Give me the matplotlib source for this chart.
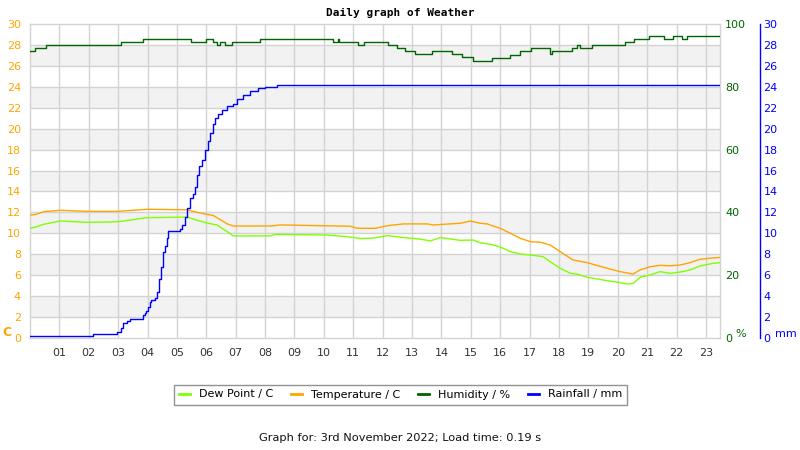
import matplotlib
matplotlib.use("Agg")
import matplotlib.pyplot as plt
from matplotlib.lines import Line2D

# ---------------- data ----------------
hour_ticks = list(range(1, 24))
hour_labels = ["%02d" % h for h in hour_ticks]

temp_t = [0, 0.2, 0.46, 1.03, 1.95, 2.97, 4.0, 5.35, 5.69, 6.24, 6.71, 6.92, 8.18, 8.52,
          10.90, 11.14, 11.75, 12.16, 12.70, 13.52, 13.72, 14.64, 14.99, 15.32, 15.56,
          15.76, 16.0, 16.35, 16.69, 17.03, 17.36, 17.70, 18.04, 18.48, 18.96, 19.64,
          20.08, 20.52, 20.76, 21.10, 21.44, 21.78, 22.12, 22.46, 22.80, 23.24, 23.48]
temp_v = [11.75, 11.8, 12.07, 12.2, 12.1, 12.1, 12.3, 12.25, 12.0, 11.7, 10.9, 10.7, 10.7, 10.8,
          10.68, 10.48, 10.48, 10.73, 10.9, 10.9, 10.8, 10.96, 11.18, 10.96, 10.9,
          10.7, 10.48, 10.0, 9.52, 9.2, 9.15, 8.89, 8.25, 7.45, 7.2, 6.66,
          6.34, 6.11, 6.5, 6.81, 6.94, 6.9, 6.97, 7.2, 7.52, 7.65, 7.7]

dew_t = [0, 0.2, 0.46, 1.03, 1.95, 2.97, 4.0, 5.35, 5.56, 6.0, 6.36, 6.71, 6.92, 8.18, 8.35,
         10.12, 10.90, 11.24, 11.68, 12.16, 12.70, 13.28, 13.62, 13.96, 14.64, 15.08, 15.32,
         15.56, 15.76, 16.0, 16.35, 16.69, 17.03, 17.46, 17.70, 18.04, 18.39, 18.62, 18.96,
         19.64, 20.08, 20.32, 20.52, 20.76, 21.10, 21.44, 21.78, 22.12, 22.46, 22.80, 23.24, 23.48]
dew_v = [10.48, 10.6, 10.86, 11.18, 11.05, 11.1, 11.5, 11.55, 11.36, 11.0, 10.8, 10.16, 9.75, 9.76, 9.9,
         9.84, 9.65, 9.5, 9.55, 9.78, 9.6, 9.45, 9.27, 9.6, 9.33, 9.36, 9.1,
         9.0, 8.89, 8.7, 8.25, 8.02, 7.93, 7.77, 7.29, 6.66, 6.18, 6.1, 5.8,
         5.48, 5.29, 5.16, 5.2, 5.8, 6.02, 6.34, 6.18, 6.3, 6.5, 6.88, 7.13, 7.2]

hum_t = [0, 0.18, 0.55, 3.10, 3.86, 5.49, 6.0, 6.24, 6.36, 6.48, 6.65, 6.88, 7.83,
         10.31, 10.49, 10.52, 11.15, 11.37, 12.18, 12.49, 12.77, 13.11, 13.68, 14.36,
         14.70, 15.09, 15.72, 16.35, 16.66, 17.04, 17.68, 17.76, 18.44, 18.61, 18.72,
         19.12, 20.25, 20.56, 21.08, 21.56, 21.89, 22.18, 22.35, 23.48]
hum_v = [91.4, 92.3, 93.2, 94.3, 95.1, 94.3, 95.1, 94.3, 93.2, 94.3, 93.2, 94.3, 95.1,
         94.3, 95.1, 94.3, 93.2, 94.3, 93.2, 92.3, 91.4, 90.4, 91.4, 90.4,
         89.5, 88.2, 89.1, 90.2, 91.4, 92.3, 90.4, 91.4, 92.3, 93.2, 92.3,
         93.2, 94.3, 95.1, 96.1, 95.1, 96.1, 95.1, 96.1, 96.1]

rain_t = [0, 2.13, 2.96, 3.08, 3.15, 3.31, 3.41, 3.86, 3.90, 3.96, 4.02, 4.07, 4.12, 4.27,
          4.33, 4.38, 4.45, 4.52, 4.58, 4.66, 4.71, 5.10, 5.18, 5.27, 5.35, 5.46, 5.56,
          5.63, 5.69, 5.75, 5.85, 5.97, 6.06, 6.14, 6.22, 6.31, 6.40, 6.55, 6.70, 6.90,
          7.05, 7.25, 7.50, 7.75, 8.0, 8.4, 23.48]
rain_v = [0.2, 0.4, 0.6, 1.0, 1.4, 1.6, 1.8, 2.2, 2.4, 2.6, 3.0, 3.4, 3.6, 3.8,
          4.4, 5.6, 6.8, 8.2, 8.8, 9.6, 10.2, 10.4, 10.8, 11.6, 12.4, 13.4, 13.8,
          14.4, 15.6, 16.4, 17.0, 18.0, 18.8, 19.6, 20.4, 21.0, 21.4, 21.8, 22.2, 22.4,
          22.8, 23.2, 23.6, 23.9, 24.0, 24.2, 24.2]

x_max = 23.48

# ---------------- styles ----------------
C_TEMP = "#FFA500"
C_DEW = "#80FF00"
C_HUM = "#006400"
C_RAIN = "#0000FF"
C_GRID = "#d3d3d3"
C_BAND = "#f2f2f2"
FS = 8

fig = plt.figure(figsize=(8, 4.5), dpi=100)
ax = fig.add_axes([30 / 800, 1 - 338 / 450, 690 / 800, 314 / 450])

ax.set_xlim(0, x_max)
ax.set_ylim(0, 30)
for lo in range(2, 28, 4):
    ax.axhspan(lo, lo + 2, color=C_BAND, lw=0, zorder=0)
for y in range(2, 30, 2):
    ax.axhline(y, color=C_GRID, lw=1, zorder=1)
for h in hour_ticks:
    ax.axvline(h, color=C_GRID, lw=1, zorder=1)
for s in ax.spines.values():
    s.set_color(C_GRID)
    s.set_linewidth(1)

ax.plot(dew_t, dew_v, color=C_DEW, lw=1, zorder=3)
ax.plot(temp_t, temp_v, color=C_TEMP, lw=1, zorder=3)

ax.set_yticks(range(0, 31, 2))
ax.tick_params(axis="y", length=0, pad=6.5, labelsize=FS, labelcolor=C_TEMP)
ax.set_xticks(hour_ticks)
ax.set_xticklabels(hour_labels)
ax.tick_params(axis="x", length=0, pad=7, labelsize=FS, labelcolor="#333333")

ax2 = ax.twinx()
ax2.set_ylim(0, 100)
ax2.set_yticks(range(0, 101, 20))
ax2.tick_params(axis="y", length=0, pad=3.6, labelsize=FS, labelcolor=C_HUM)
for s in ax2.spines.values():
    s.set_visible(False)
ax2.step(hum_t, hum_v, where="post", color=C_HUM, lw=1, zorder=3)

ax3 = ax.twinx()
ax3.set_ylim(0, 30)
ax3.set_yticks(range(0, 31, 2))
for k, s in ax3.spines.items():
    s.set_visible(k == "right")
ax3.spines["right"].set_position(("axes", 1.058))
ax3.spines["right"].set_color(C_RAIN)
ax3.spines["right"].set_linewidth(1)
ax3.tick_params(axis="y", length=0, pad=2.5, labelsize=FS, labelcolor=C_RAIN)
ax3.step(rain_t, rain_v, where="post", color=C_RAIN, lw=1, zorder=4)
ax3.set_xlim(0, x_max)

fig.text(400 / 800, 1 - 13 / 450, "Daily graph of Weather", ha="center", va="center",
         fontsize=FS, fontweight="bold", family="DejaVu Sans Mono")
fig.text(2 / 800, 1 - 333 / 450, "C", ha="left", va="center", fontsize=FS + 1,
         fontweight="bold", color=C_TEMP)
fig.text(735 / 800, 1 - 334 / 450, "%", ha="left", va="center", fontsize=FS, color=C_HUM)
fig.text(775 / 800, 1 - 334 / 450, "mm", ha="left", va="center", fontsize=FS, color=C_RAIN)
fig.text(400 / 800, 1 - 438 / 450, "Graph for: 3rd November 2022; Load time: 0.19 s",
         ha="center", va="center", fontsize=8.2, color="#111111")

handles = [Line2D([], [], color=c, lw=2) for c in (C_DEW, C_TEMP, C_HUM, C_RAIN)]
labels = ["Dew Point / C", "Temperature / C", "Humidity / %", "Rainfall / mm"]
leg = fig.legend(handles, labels, loc="center", bbox_to_anchor=(400.5 / 800, 1 - 394.5 / 450),
                 ncol=4, fontsize=FS, frameon=True, fancybox=False, handlelength=1.0,
                 handletextpad=0.8, columnspacing=1.6, borderpad=0.45, borderaxespad=0)
leg.get_frame().set_edgecolor("#777777")
leg.get_frame().set_linewidth(1)

fig.savefig("out.png", dpi=100)
